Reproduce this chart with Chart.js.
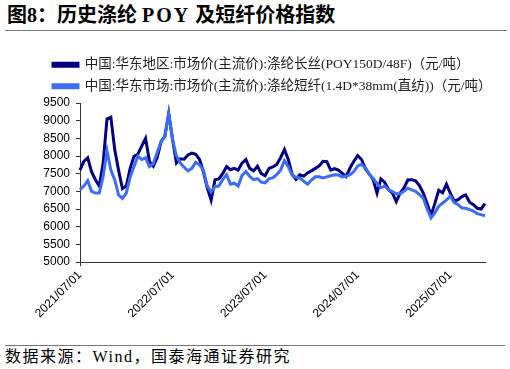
<!DOCTYPE html>
<html>
<head>
<meta charset="utf-8">
<script src="https://cdn.jsdelivr.net/npm/chart.js@4.4.1/dist/chart.umd.min.js"></script>
<style>
body { margin: 0; width: 510px; height: 369px; background: #fff; position: relative; overflow: hidden; }
#title { position: absolute; left: 5px; top: 0; width: 500px; height: 30px; border-bottom: 1px solid #777;
  font: bold 20px "Liberation Serif", "Noto Sans CJK SC"; line-height: 30px; color: #000; padding-left: 2px; }
#title span { letter-spacing: 2px; }
#wrap { position: absolute; left: 0; top: 36px; width: 510px; height: 300px; }
#foot { position: absolute; left: 5px; top: 345px; width: 500px; border-top: 1px solid #777;
  font: 16px "Liberation Serif", "Noto Sans CJK SC"; line-height: 22px; color: #000; letter-spacing: 1.5px; }
</style>
</head>
<body>
<div id="title">图8：历史涤纶 <span>POY</span> 及短纤价格指数</div>
<div id="wrap"><canvas id="priceChart" width="510" height="300"></canvas></div>
<div id="foot">数据来源：Wind，国泰海通证券研究</div>
<script>
// half-month dates from 2021/07/01 to 2025/11/16
var dates = [];
for (var y = 2021; y <= 2025; y++) {
    for (var m = 1; m <= 12; m++) {
        if ((y == 2021 && m < 7) || (y == 2025 && m > 11)) continue;
        var mm = (m < 10 ? '0' : '') + m;
        dates.push(y + '/' + mm + '/01');
        dates.push(y + '/' + mm + '/16');
    }
}

var poyName = '中国:华东地区:市场价(主流价):涤纶长丝(POY150D/48F)（元/吨）';
var stapleName = '中国:华东市场:市场价(主流价):涤纶短纤(1.4D*38mm(直纺))（元/吨）';

var poyPrice = [
    7600, 7850, 7950, 7550, 7330, 7150, 7800, 9050, 9100, 8180, 7600, 7080, 7150, 7650, 7990, 8050,
    8280, 8500, 7850, 7710, 7950, 8400, 8560, 9200, 8460, 7800, 7920, 7910, 8030, 8080, 8050, 7900,
    7550, 7100, 6750, 7330, 7350, 7500, 7700, 7610, 7650, 7600, 7800, 7900, 7650, 7580, 7710, 7500,
    7440, 7650, 7690, 7760, 7950, 8180, 7900, 7480, 7340, 7470, 7430, 7520, 7580, 7650, 7720, 7850,
    7840, 7600, 7640, 7600, 7510, 7420, 7660, 7850, 8010, 7900, 7640, 7490, 7330, 6950, 7350, 7250,
    7050, 6950, 6710, 6950, 7100, 7320, 7330, 7300, 7160, 6950, 6650, 6320, 6660, 7030, 6960, 7200,
    6950, 6730, 6760, 6850, 6900, 6690, 6620, 6520, 6500, 6650
];
var staplePrice = [
    7050, 7150, 7300, 7000, 6950, 6950, 7420, 8150, 7600, 7330, 6900, 6800, 6950, 7400, 7700, 8000,
    7900, 7950, 7700, 7780, 8100, 8400, 8560, 9200, 8460, 8000, 7800, 7680, 7580, 7650, 7820, 7750,
    7600, 7150, 6980, 7140, 7150, 7330, 7470, 7200, 7230, 7150, 7450, 7560, 7420, 7330, 7360, 7260,
    7240, 7360, 7380, 7470, 7600, 7870, 7700, 7460, 7400, 7380, 7290, 7200, 7320, 7410, 7410, 7380,
    7410, 7440, 7470, 7460, 7410, 7425, 7470, 7560, 7720, 7760, 7670, 7480, 7370, 7220, 7100, 7150,
    7050, 6990, 6930, 6935, 7000, 7090, 7040, 7000, 6910, 6810, 6500, 6250, 6390, 6580, 6670, 6750,
    6860, 6680, 6630, 6530, 6520, 6480, 6440, 6370, 6340, 6310
];

var axisColor = '#333';
var tickFont = { family: '"Liberation Sans", Arial', size: 12 };

function isJuly(i) {
    return dates[i] && dates[i].slice(4) == '/07/01';
}

// legend rows start at the left, not at the canvas edge (and are not clipped on the right)
var legendShift = {
    id: 'legendShift',
    afterLayout: function(chart) {
        if (!chart.legend) return;
        chart.legend.left = 45;
        chart.legend.right = 510;
        chart.legend.width = 465;
    }
};

var ctx = document.getElementById('priceChart').getContext('2d');
var chart = new Chart(ctx, {
    type: 'line',
    data: {
        labels: dates,
        datasets: [{
            label: poyName,
            data: poyPrice,
            borderColor: '#000080',
            backgroundColor: '#000080',
            borderWidth: 3,
            pointRadius: 0,
            tension: 0,
            order: 1
        }, {
            label: stapleName,
            data: staplePrice,
            borderColor: '#3d6df5',
            backgroundColor: '#3d6df5',
            borderWidth: 3,
            pointRadius: 0,
            tension: 0,
            order: 0
        }]
    },
    options: {
        responsive: false,
        animation: false,
        layout: { padding: { left: 0, right: 25, top: 14, bottom: 4 } },
        plugins: {
            legend: {
                position: 'top',
                align: 'start',
                labels: {
                    boxWidth: 25,
                    boxHeight: 3,
                    padding: 8,
                    color: '#222',
                    font: { family: '"Liberation Serif", "Noto Sans CJK SC"', size: 13.5 },
                    sort: function(a, b) { return a.datasetIndex - b.datasetIndex; }
                }
            },
            tooltip: { enabled: false }
        },
        scales: {
            x: {
                grid: {
                    drawOnChartArea: false,
                    tickLength: 4,
                    tickColor: function(c) { return isJuly(c.index) ? axisColor : 'rgba(0,0,0,0)'; }
                },
                border: { color: axisColor, width: 1 },
                ticks: {
                    autoSkip: false,
                    minRotation: 45,
                    maxRotation: 45,
                    padding: 2,
                    color: '#000',
                    font: tickFont,
                    callback: function(value, index) {
                        return isJuly(index) ? dates[index] : null;
                    }
                },
                afterFit: function(scale) { scale.height = 70; }
            },
            y: {
                min: 5000,
                max: 9500,
                grid: { drawOnChartArea: false, tickLength: 4, color: axisColor },
                border: { color: axisColor, width: 1 },
                ticks: {
                    stepSize: 500,
                    padding: 6,
                    color: '#000',
                    font: tickFont,
                    callback: function(value) { return String(value); }
                },
                afterFit: function(scale) { scale.width = 80; }
            }
        }
    },
    plugins: [legendShift]
});
</script>
</body>
</html>
